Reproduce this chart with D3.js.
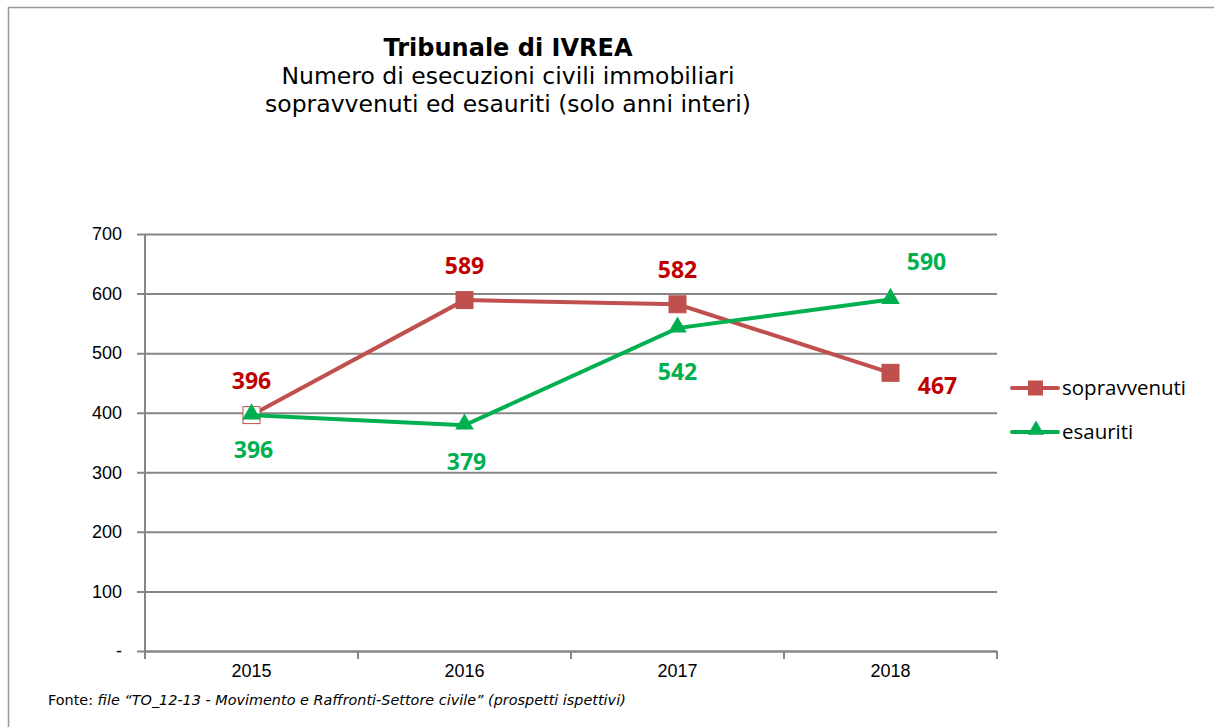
<!DOCTYPE html>
<html>
<head>
<meta charset="utf-8">
<script src="https://cdn.jsdelivr.net/npm/d3@7"></script>
<style>
  body { margin: 0; background: #fff; }
  svg { display: block; }
</style>
</head>
<body>
<div id="chart"></div>
<script>
// chart data
const years = ["2015", "2016", "2017", "2018"];
const sopravvenuti = [396, 589, 582, 467];
const esauriti = [396, 379, 542, 590];
const yTicks = [0, 100, 200, 300, 400, 500, 600, 700];
const titleLines = ["Numero di esecuzioni civili immobiliari", "sopravvenuti ed esauriti (solo anni interi)"];

const width = 1214, height = 727;
const margin = { top: 234, left: 145, right: 217, bottom: 75 };
const innerWidth = width - margin.left - margin.right;
const innerHeight = height - margin.top - margin.bottom - 1;

const red = "#C0504D", redLabel = "#C00000", green = "#00B050", grid = "#868686";

const svg = d3.select("#chart").append("svg")
  .attr("width", width)
  .attr("height", height);

// outer frame: only top and left edges show in the picture
svg.append("path")
  .attr("d", `M8.5,${height}V7.5H${width}`)
  .attr("fill", "none").attr("stroke", "#999").attr("stroke-width", 1.5);

// titles
svg.append("text")
  .attr("x", 508).attr("y", 56)
  .attr("text-anchor", "middle")
  .style("font-family", "DejaVu Sans, Verdana, sans-serif")
  .style("font-weight", "bold").style("font-size", "24px")
  .text("Tribunale di IVREA");
svg.selectAll(".subtitle")
  .data(titleLines)
  .enter().append("text")
  .attr("class", "subtitle")
  .attr("x", 508).attr("y", (d, i) => 84 + i * 28)
  .attr("text-anchor", "middle")
  .style("font-family", "DejaVu Sans, Verdana, sans-serif")
  .style("font-size", "23.5px")
  .text(d => d);

const g = svg.append("g").attr("transform", `translate(${margin.left}, ${margin.top})`);

const x = d3.scaleBand().domain(years).range([0, innerWidth]);
const y = d3.scaleLinear().domain([0, 700]).range([innerHeight, 0]);

// gridlines + y axis
const yAxis = d3.axisLeft(y)
  .tickValues(yTicks)
  .tickSize(-innerWidth)
  .tickPadding(23)
  .tickFormat(d => d === 0 ? "-" : d);
const yg = g.append("g").call(yAxis);
yg.select(".domain").remove();
yg.selectAll(".tick line")
  .attr("x1", -8)
  .attr("stroke", grid).attr("stroke-width", 2);
yg.selectAll(".tick text")
  .style("font-family", "Liberation Sans, Arial, sans-serif")
  .style("font-size", "18px").attr("fill", "#000");
g.append("line")
  .attr("x1", 0).attr("x2", 0).attr("y1", 0).attr("y2", innerHeight)
  .attr("stroke", grid).attr("stroke-width", 2);

// x axis
const xg = g.append("g")
  .attr("transform", `translate(0, ${innerHeight})`)
  .call(d3.axisBottom(x).tickSize(0).tickPadding(13));
xg.select(".domain").attr("stroke", grid).attr("stroke-width", 2);
xg.selectAll(".tick text")
  .style("font-family", "Liberation Sans, Arial, sans-serif")
  .style("font-size", "18px").attr("fill", "#000");
g.append("g").selectAll("line")
  .data(years.concat(["end"]))
  .enter().append("line")
  .attr("x1", (d, i) => i * x.bandwidth()).attr("x2", (d, i) => i * x.bandwidth())
  .attr("y1", innerHeight).attr("y2", innerHeight + 8)
  .attr("stroke", grid).attr("stroke-width", 2);

const cx = (d, i) => x(years[i]) + x.bandwidth() / 2;
const line = d3.line().x(cx).y(d => y(d));

// sopravvenuti
g.append("path").datum(sopravvenuti)
  .attr("d", line).attr("fill", "none")
  .attr("stroke", red).attr("stroke-width", 4);
g.selectAll(".sq").data(sopravvenuti).enter().append("rect")
  .attr("class", "sq")
  .attr("x", (d, i) => cx(d, i) - 8.5).attr("y", d => y(d) - 8.5)
  .attr("width", 17).attr("height", 17)
  .attr("fill", (d, i) => i === 0 ? "#fff" : red)
  .attr("stroke", red).attr("stroke-width", 1);

// esauriti
const tri = d3.symbol().type(d3.symbolTriangle).size(150);
g.append("path").datum(esauriti)
  .attr("d", line).attr("fill", "none")
  .attr("stroke", green).attr("stroke-width", 4);
g.selectAll(".tri").data(esauriti).enter().append("path")
  .attr("class", "tri")
  .attr("d", tri)
  .attr("transform", (d, i) => `translate(${cx(d, i)}, ${y(d) - 1})`)
  .attr("fill", green);

// data labels
const redOffsets = [[0, -26], [0, -26], [0, -26], [47, 21]];
const greenOffsets = [[2, 43], [2, 45], [0, 52], [36, -30]];
const labelStyle = sel => sel
  .attr("text-anchor", "middle")
  .style("font-family", "Open Sans, Noto Sans, sans-serif")
  .style("font-weight", "bold").style("font-size", "23px");

g.selectAll(".rl").data(sopravvenuti).enter().append("text")
  .attr("class", "rl")
  .attr("x", (d, i) => cx(d, i) + redOffsets[i][0])
  .attr("y", (d, i) => y(d) + redOffsets[i][1])
  .attr("fill", redLabel)
  .call(labelStyle)
  .text(d => d);
g.selectAll(".gl").data(esauriti).enter().append("text")
  .attr("class", "gl")
  .attr("x", (d, i) => cx(d, i) + greenOffsets[i][0])
  .attr("y", (d, i) => y(d) + greenOffsets[i][1])
  .attr("fill", green)
  .call(labelStyle)
  .text(d => d);

// legend
const legend = svg.append("g").attr("transform", "translate(1012, 388)");
const items = [
  { name: "sopravvenuti", color: red, shape: "sq" },
  { name: "esauriti", color: green, shape: "tri" }
];
const li = legend.selectAll("g").data(items).enter().append("g")
  .attr("transform", (d, i) => `translate(0, ${i * 44})`);
li.append("line")
  .attr("x1", 0).attr("x2", 46)
  .attr("stroke", d => d.color).attr("stroke-width", 4).attr("stroke-linecap", "round");
li.each(function(d) {
  const s = d3.select(this);
  if (d.shape === "sq") {
    s.append("rect").attr("x", 16).attr("y", -7.5).attr("width", 15).attr("height", 15).attr("fill", d.color);
  } else {
    s.append("path").attr("d", d3.symbol().type(d3.symbolTriangle).size(120))
      .attr("transform", "translate(24, -2)").attr("fill", d.color);
  }
});
li.append("text")
  .attr("x", 50).attr("y", 7)
  .style("font-family", "Open Sans, Noto Sans, sans-serif")
  .style("font-size", "20.5px")
  .text(d => d.name);

// source note
const fonte = svg.append("text")
  .attr("x", 48).attr("y", 705)
  .style("font-family", "DejaVu Sans, sans-serif")
  .style("font-size", "14.4px");
fonte.append("tspan").text("Fonte: ");
fonte.append("tspan").style("font-style", "italic")
  .text("file \u201CTO_12-13 - Movimento e Raffronti-Settore civile\u201D (prospetti ispettivi)");
</script>
</body>
</html>
